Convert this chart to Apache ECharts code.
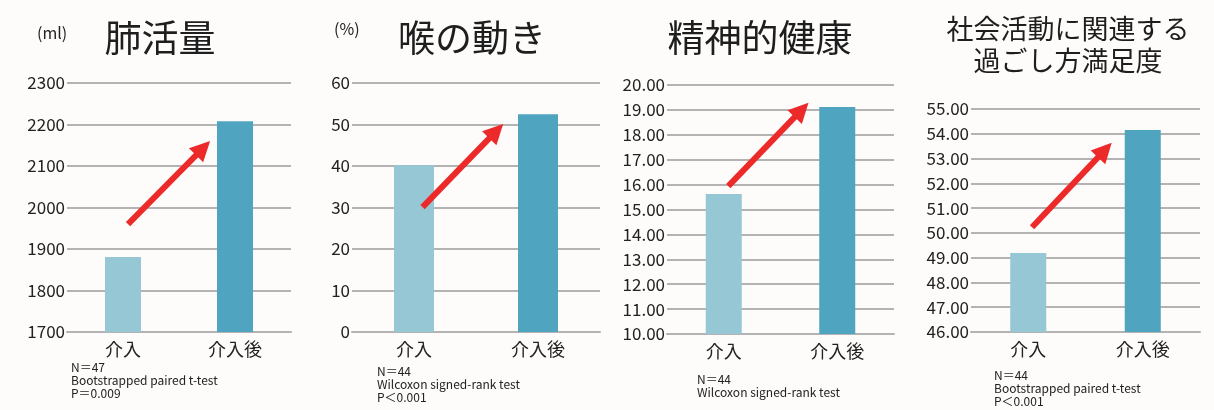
<!DOCTYPE html>
<html><head><meta charset="utf-8">
<script src="https://cdn.jsdelivr.net/npm/echarts@6/dist/echarts.min.js"></script>
<style>html,body{margin:0;padding:0;background:#fdfcfa}#c{width:1214px;height:410px}</style>
</head><body><div id="c"></div>
<script>
const categories = ['介入', '介入後'];
const lungValues = [1881, 2208];
const swallowValues = [40.2, 52.5];
const mentalValues = [15.62, 19.12];
const socialValues = [49.19, 54.15];
// arrow endpoints in data space: [categoryPosition, value]
const lungArrow = [[0.045, 1960], [0.715, 2143]];
const swallowArrow = [[0.069, 30.1], [0.663, 48.4]];
const mentalArrow = [[0.04, 15.94], [0.686, 19.0]];
const socialArrow = [[0.033, 50.23], [0.669, 53.34]];
const titles = ['肺活量', '喉の動き', '精神的健康', '社会活動に関連する\n過ごし方満足度'];
const units = ['(ml)', '(%)'];
const notes = [
  'N＝47\nBootstrapped paired t-test\nP＝0.009',
  'N＝44\nWilcoxon signed-rank test\nP＜0.001',
  'N＝44\nWilcoxon signed-rank test',
  'N＝44\nBootstrapped paired t-test\nP＜0.001'
];
const yRanges = [[1700, 2300, 100, 0], [0, 60, 10, 0], [10, 20, 1, 2], [46, 55, 1, 2]];

const FONT = '"Noto Sans CJK JP", "Noto Sans", sans-serif';
const barColors = ['#95c7d5', '#4fa5bf'];
const gridColor = '#b3b3b3';
const arrowColor = '#ec2a2a';

const grids = [
  {left: 67, top: 83, width: 224, height: 249},
  {left: 352, top: 83, width: 248, height: 249},
  {left: 667, top: 85, width: 227, height: 249},
  {left: 971, top: 109, width: 229, height: 223}
];
const barWidths = [36, 40, 36, 36];
const allValues = [lungValues, swallowValues, mentalValues, socialValues];
const allArrows = [lungArrow, swallowArrow, mentalArrow, socialArrow];

const xAxis = [], yAxis = [], series = [];
grids.forEach((g, i) => {
  xAxis.push({
    type: 'category', gridIndex: i, data: categories,
    axisLine: {lineStyle: {color: gridColor, width: 2}},
    axisTick: {show: false},
    axisLabel: {color: '#222', fontSize: 18, fontFamily: FONT, margin: 8}
  });
  xAxis.push({type: 'value', gridIndex: i, min: -0.5, max: 1.5, show: false});
  const r = yRanges[i];
  yAxis.push({
    type: 'value', gridIndex: i, min: r[0], max: r[1], interval: r[2],
    axisLine: {show: false}, axisTick: {show: false},
    splitLine: {lineStyle: {color: gridColor, width: 2}},
    axisLabel: {color: '#222', fontSize: 17, fontFamily: FONT, margin: 2,
      formatter: v => v.toFixed(r[3])}
  });
  series.push({
    type: 'bar', xAxisIndex: i * 2, yAxisIndex: i, barWidth: barWidths[i],
    data: allValues[i].map((v, k) => ({value: v, itemStyle: {color: barColors[k]}})),
    silent: true, animation: false
  });
  series.push({
    type: 'scatter', xAxisIndex: i * 2 + 1, yAxisIndex: i, data: [], animation: false,
    markLine: {
      silent: true, animation: false,
      symbol: ['none', 'triangle'], symbolSize: [20, 20],
      lineStyle: {color: arrowColor, width: 6, type: 'solid'},
      itemStyle: {color: arrowColor},
      label: {show: false},
      data: [[{coord: allArrows[i][0]}, {coord: allArrows[i][1]}]]
    }
  });
});

const titleCfg = [
  {x: 160, y: 18, size: 37},
  {x: 472, y: 18, size: 37},
  {x: 760, y: 18, size: 37},
  {x: 1068, y: 13, size: 27, lh: 32}
];
const title = titles.map((t, i) => ({
  text: t, left: titleCfg[i].x, top: titleCfg[i].y, textAlign: 'center', padding: 0,
  textStyle: {fontSize: titleCfg[i].size, fontWeight: 'normal', color: '#1e1e1e', fontFamily: FONT,
    lineHeight: titleCfg[i].lh || titleCfg[i].size * 1.1}
}));

const noteCfg = [[71, 361], [377, 365], [697, 373], [994, 369]];
const graphic = [
  {type: 'text', left: 37, top: 25, style: {text: units[0], fontSize: 16, fill: '#222', fontFamily: FONT}},
  {type: 'text', left: 334, top: 21, style: {text: units[1], fontSize: 16, fill: '#222', fontFamily: FONT}}
].concat(notes.map((n, i) => ({
  type: 'text', left: noteCfg[i][0], top: noteCfg[i][1],
  style: {text: n, fontSize: 12, lineHeight: 12.8, fill: '#222', fontFamily: FONT}
})));

const chart = echarts.init(document.getElementById('c'), null, {renderer: 'canvas'});
chart.setOption({
  backgroundColor: '#fdfcfa',
  animation: false,
  title, grid: grids, xAxis, yAxis, series, graphic
});
</script></body></html>
